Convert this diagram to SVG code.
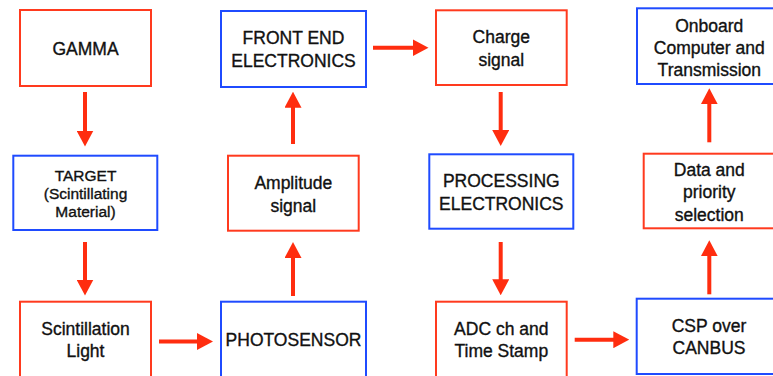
<svg xmlns="http://www.w3.org/2000/svg" width="773" height="376" viewBox="0 0 773 376">
<style>
.r{fill:#fff;stroke:#FF3A1E;stroke-width:2}
.b{fill:#fff;stroke:#1F4BFF;stroke-width:2}
text{font-family:"Liberation Sans",Arial,sans-serif;font-size:17.5px;fill:#111;stroke:#111;stroke-width:0.35;text-anchor:middle}
text.s{font-size:15.5px}
.c line{stroke:#FF2D0F;stroke-width:4;marker-end:url(#ah)}
</style>
<defs>
<marker id="ah" viewBox="0 0 16 17" refX="1" refY="8.5" markerWidth="16" markerHeight="17" markerUnits="userSpaceOnUse" orient="auto">
<path d="M0,0 L16,8.5 L0,17 z" fill="#FF2D0F"/>
</marker>
</defs>
<rect width="773" height="376" fill="#fff"/>
<g id="gamma"><rect class="r" x="20" y="10" width="131" height="76"/><text x="85.5" y="55">GAMMA</text></g>
<g id="target"><rect class="b" x="13.3" y="155.7" width="144" height="74.3"/><text class="s" x="85.5" y="181">TARGET</text><text class="s" x="85.5" y="199">(Scintillating</text><text class="s" x="85.5" y="217">Material)</text></g>
<g id="scint"><rect class="r" x="20" y="301.7" width="131" height="80"/><text x="85.5" y="335">Scintillation</text><text x="85.5" y="357">Light</text></g>
<g id="photosensor"><rect class="b" x="221" y="301.7" width="145" height="80"/><text x="293.5" y="346">PHOTOSENSOR</text></g>
<g id="amplitude"><rect class="r" x="228" y="155.7" width="130.7" height="75"/><text x="293.3" y="189">Amplitude</text><text x="293.3" y="212">signal</text></g>
<g id="frontend"><rect class="b" x="221" y="11" width="145" height="76"/><text x="293.5" y="44.3">FRONT END</text><text x="293.5" y="67.3">ELECTRONICS</text></g>
<g id="charge"><rect class="r" x="436" y="10.3" width="130.7" height="74.7"/><text x="501.3" y="42.7">Charge</text><text x="501.3" y="65.7">signal</text></g>
<g id="processing"><rect class="b" x="429.3" y="154.3" width="144" height="74.4"/><text x="501.3" y="187.3">PROCESSING</text><text x="501.3" y="210">ELECTRONICS</text></g>
<g id="adc"><rect class="r" x="436" y="301.7" width="130.7" height="80"/><text x="501.3" y="335">ADC ch and</text><text x="501.3" y="356.7">Time Stamp</text></g>
<g id="csp"><rect class="b" x="636.7" y="298.7" width="145" height="75.3"/><text x="709" y="332">CSP over</text><text x="709" y="354.3">CANBUS</text></g>
<g id="data"><rect class="r" x="643.7" y="153.7" width="132" height="74.6"/><text x="709.3" y="175.5">Data and</text><text x="709.3" y="198">priority</text><text x="709.3" y="221">selection</text></g>
<g id="onboard"><rect class="b" x="637" y="8.3" width="145" height="75.7"/><text x="709.3" y="31.7">Onboard</text><text x="709.3" y="54">Computer and</text><text x="709.3" y="76">Transmission</text></g>
<g id="connectors" class="c">
<line x1="85" y1="92" x2="85" y2="131.5"/>
<line x1="85" y1="242" x2="85" y2="280.5"/>
<line x1="159" y1="341.5" x2="198" y2="341.5"/>
<line x1="293" y1="296" x2="293" y2="257"/>
<line x1="293" y1="144" x2="293" y2="106.7"/>
<line x1="373" y1="47.7" x2="413.5" y2="47.7"/>
<line x1="500.7" y1="92" x2="500.7" y2="131"/>
<line x1="500.7" y1="242" x2="500.7" y2="280.3"/>
<line x1="574.7" y1="339.7" x2="614.3" y2="339.7"/>
<line x1="709.3" y1="294.3" x2="709.3" y2="255.3"/>
<line x1="709.3" y1="142.3" x2="709.3" y2="103.3"/>
</g>
</svg>
